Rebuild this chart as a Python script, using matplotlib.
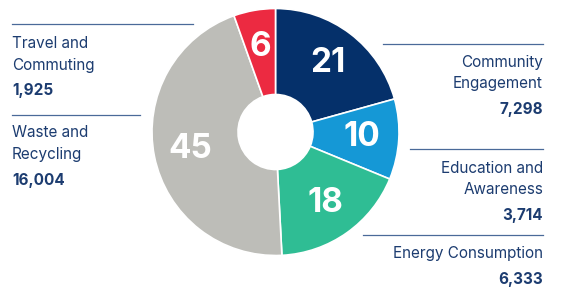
import matplotlib.pyplot as plt
import numpy as np

# data
categories = ["Community Engagement", "Education and Awareness", "Energy Consumption",
              "Waste and Recycling", "Travel and Commuting"]
values = [7298, 3714, 6333, 16004, 1925]
pct_labels = [21, 10, 18, 45, 6]
colors = ["#05306a", "#1598d6", "#2fbd94", "#bdbdb8", "#ec2a41"]

text_col = "#1c3c70"
line_col = "#4a6a99"
plt.rcParams['font.family'] = ['Inter', 'DejaVu Sans']

H = 287
fig = plt.figure(figsize=(5.63, 2.87), dpi=100)
ax = fig.add_axes([0, 0, 1, 1])

# positions are measured from the top of the image, flip to data y
def fy(y):
	return H - y

cx, cy, R, r_in = 275.5, fy(132), 123.5, 37.5
wedges, _ = ax.pie(values, colors=colors, startangle=90, counterclock=False,
                   center=(cx, cy), radius=R, frame=True,
                   wedgeprops=dict(width=R - r_in, edgecolor='white', linewidth=1.2))
ax.set_xlim(0, 563)
ax.set_ylim(0, H)
ax.set_aspect('equal')
ax.axis('off')

# percentage labels inside the ring
for w, p in zip(wedges, pct_labels):
	ang = np.deg2rad((w.theta1 + w.theta2) / 2)
	d = 0.7 * R
	ax.text(cx + d * np.cos(ang), cy + d * np.sin(ang), str(p), color='white',
	        fontsize=24, fontweight='bold', ha='center', va='center')

# side labels: (name lines, value, x, baselines, align, line y, line x0, line x1)
side = [
	(["Travel and", "Commuting"], values[4], 12, [48, 70, 95], 'left', 24, 12, 193),
	(["Waste and", "Recycling"], values[3], 12, [137, 159, 185], 'left', 115, 12, 140),
	(["Community", "Engagement"], values[0], 543, [67, 88, 114], 'right', 44, 383, 543),
	(["Education and", "Awareness"], values[1], 543, [173, 194, 220], 'right', 149, 410, 543),
	(["Energy Consumption"], values[2], 543, [258, 284], 'right', 235, 363, 543),
]
for lines, val, x, ys, ha, ly, lx0, lx1 in side:
	ax.plot([lx0, lx1], [fy(ly), fy(ly)], color=line_col, lw=0.9)
	for t, y in zip(lines, ys[:-1]):
		ax.text(x, fy(y), t, color=text_col, fontsize=11, ha=ha, va='baseline')
	ax.text(x, fy(ys[-1]), "{:,}".format(val), color=text_col, fontsize=11,
	        fontweight='bold', ha=ha, va='baseline')

fig.savefig("out.png", dpi=100)
